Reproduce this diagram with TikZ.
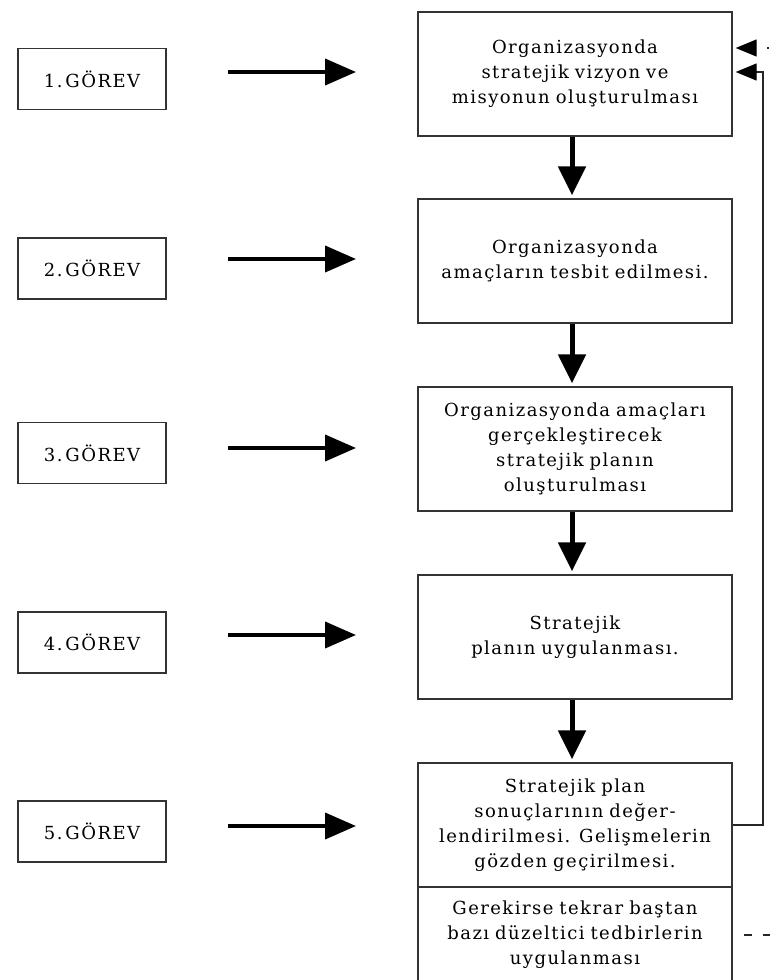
\documentclass[tikz,border=0pt]{standalone}
\usepackage{fontspec}
\setmainfont{DejaVu Serif}[LetterSpace=8.0]
\usetikzlibrary{arrows.meta}
\begin{document}
\begin{tikzpicture}[x=1pt,y=-1pt,
  box/.style={draw=black!80, line width=1.4pt, minimum width=314pt, minimum height=124pt,
    text width=300pt, align=center, inner sep=0pt, font=\fontsize{18}{25}\selectfont},
  gbox/.style={draw=black!80, line width=1.4pt, minimum width=148pt, minimum height=61pt,
    inner sep=0pt, font=\fontsize{18}{25}\selectfont},
  harrow/.style={line width=4pt, -{Triangle[length=31pt,width=26pt]}},
  varrow/.style={line width=5pt, -{Triangle[length=29pt,width=27pt]}, shorten >=3pt},
  fbline/.style={line width=1.4pt, draw=black!85},
  fbtip/.style={-{Triangle[length=21pt,width=17pt,color=black]}, shorten >=3pt}]
\useasboundingbox (0,0) rectangle (769,980);

% left boxes
\node[gbox] (g1) at (92,79) {1.\hspace{3pt}GÖREV};
\node[gbox] (g2) at (92,268.5) {2.\hspace{3pt}GÖREV};
\node[gbox] (g3) at (92,453) {3.\hspace{3pt}GÖREV};
\node[gbox] (g4) at (92,642.5) {4.\hspace{3pt}GÖREV};
\node[gbox] (g5) at (92,831.5) {5.\hspace{3pt}GÖREV};

% right boxes
\node[box] (b1) at (575,74) {Organizasyonda\\stratejik vizyon ve\\misyonun oluşturulması};
\node[box] (b2) at (575,261) {Organizasyonda\\amaçların tesbit edilmesi.};
\node[box] (b3) at (575,449) {Organizasyonda amaçları\\gerçekleştirecek\\stratejik planın\\oluşturulması};
\node[box] (b4) at (575,637) {Stratejik\\planın uygulanması.};
\node[box] (b5) at (575,825) {Stratejik plan\\sonuçlarının değer-\\lendirilmesi. Gelişmelerin\\gözden geçirilmesi.};
\node[box, minimum height=96pt] (b5l) at (575,935) {Gerekirse tekrar baştan\\bazı düzeltici tedbirlerin\\uygulanması};

% horizontal arrows
\coordinate (h1s) at (228,72);  \coordinate (h1e) at (356,72);
\coordinate (h2s) at (228,259); \coordinate (h2e) at (356,259);
\coordinate (h3s) at (228,448); \coordinate (h3e) at (356,448);
\coordinate (h4s) at (228,635); \coordinate (h4e) at (356,635);
\coordinate (h5s) at (228,826); \coordinate (h5e) at (356,826);
\foreach \i in {1,...,5} \draw[harrow] (h\i s) -- (h\i e);

% vertical arrows
\draw[varrow] ([xshift=-3pt]b1.south) -- ([xshift=-3pt]b2.north);
\draw[varrow] ([xshift=-3pt]b2.south) -- ([xshift=-3pt]b3.north);
\draw[varrow] ([xshift=-3pt]b3.south) -- ([xshift=-3pt]b4.north);
\draw[varrow] ([xshift=-3pt]b4.south) -- ([xshift=-3pt]b5.north);

% feedback loop
\coordinate (fbc) at (763,825);
\draw[fbline, fbtip] (b5.east) -- (fbc) -- (fbc |- h1e) -- (b1.east |- h1e);

% dashed connectors
\coordinate (tin) at (769,48);
\draw[fbline, fbtip, dash pattern=on 2pt off 12pt] (tin) -- (b1.east |- tin);
\coordinate (dout) at (790,935);
\draw[fbline, dash pattern=on 8pt off 11pt] ([xshift=11pt]b5l.east) -- (dout);
\end{tikzpicture}
\end{document}
